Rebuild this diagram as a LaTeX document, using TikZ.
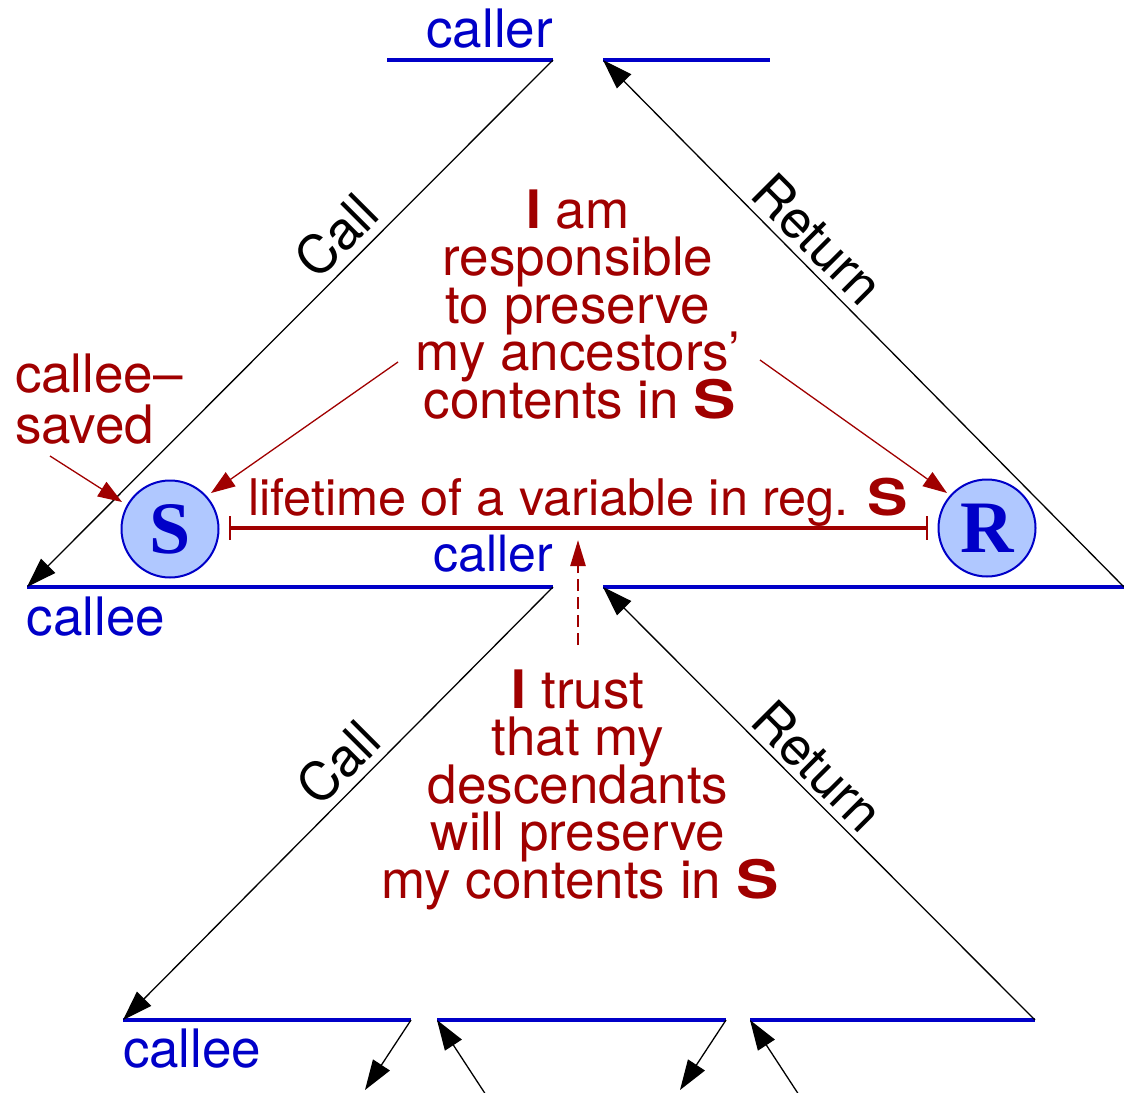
\documentclass[tikz,border=0pt]{standalone}
\usepackage{fontspec}
\usepackage{graphicx}
\setmainfont{TeX Gyre Heros}
\newfontfamily\regserif{Liberation Serif}
\usetikzlibrary{arrows.meta}
\definecolor{cblue}{RGB}{0,0,200}
\definecolor{cred}{RGB}{160,0,0}
\definecolor{cfill}{RGB}{176,200,255}
\newcommand{\regS}{\scalebox{1.2}[1.0]{\textbf{S}}}
\begin{document}
\begin{tikzpicture}[x=1pt,y=-1pt,
  txt/.style={inner sep=0pt, outer sep=0pt, font=\fontsize{53}{48}\selectfont},
  redtxt/.style={txt, text=cred, anchor=base},
  bluetxt/.style={txt, text=cblue},
  blacktxt/.style={txt, text=black},
  level/.style={draw=cblue, line width=4pt},
  flow/.style={draw=black, line width=1.3pt, -{Triangle[length=30pt,width=20pt]}},
  pointer/.style={draw=cred, line width=1.3pt, -{Triangle[length=24pt,width=17pt]}},
  reg/.style={circle, draw=cblue, line width=2pt, fill=cfill, minimum size=97pt, inner sep=0pt,
              text=cblue, font=\regserif\bfseries\fontsize{74}{74}\selectfont}
]
\useasboundingbox (0,0) rectangle (1124,1092);
\clip (0,0) rectangle (1124,1092);

% level lines
\coordinate (tA) at (387,60);  \coordinate (tB) at (553,60);
\coordinate (tC) at (603,60);  \coordinate (tD) at (770,60);
\coordinate (mA) at (27,587);  \coordinate (mB) at (553,587);
\coordinate (mC) at (603,587); \coordinate (mD) at (1124,587);
\coordinate (bA) at (123,1020); \coordinate (bB) at (411,1020);
\coordinate (bC) at (437,1020); \coordinate (bD) at (726,1020);
\coordinate (bE) at (750,1020); \coordinate (bF) at (1035,1020);
\coordinate (x1) at (365,1090); \coordinate (x2) at (486,1095);
\coordinate (x3) at (680,1090); \coordinate (x4) at (799,1095);

\draw[level] (tA) -- (tB);
\draw[level] (tC) -- (tD);
\draw[level] (mA) -- (mB);
\draw[level] (mC) -- (mD);
\draw[level] (bA) -- (bB);
\draw[level] (bC) -- (bD);
\draw[level] (bE) -- (bF);

% call / return arrows
\draw[flow] (tB) -- (mA);
\draw[flow] (mD) -- (tC);
\draw[flow] (mB) -- (bA);
\draw[flow] (bF) -- (mC);
\draw[flow] (bB) -- (x1);
\draw[flow] (x2) -- (bC);
\draw[flow] (bD) -- (x3);
\draw[flow] (x4) -- (bE);

% labels on arrows
\node[blacktxt, rotate=45] (call1) at (336,236) {Call};
\node[blacktxt, rotate=-45] (ret1) at (818,239) {Return};
\node[blacktxt, rotate=45] (call2) at (338,763) {Call};
\node[blacktxt, rotate=-45] (ret2) at (818,766) {Return};

% level names
\node[bluetxt, anchor=base east] (caller1) at (553,47) {caller};
\node[bluetxt, anchor=base east, font=\fontsize{50}{48}\selectfont] (caller2) at (553,571) {caller};
\node[bluetxt, anchor=base west] (callee1) at (27,635) {callee};
\node[bluetxt, anchor=base west] (callee2) at (123,1067) {callee};

% registers
\node[reg] (S) at (170,529) {S};
\node[reg] (R) at (987,528) {R};

% lifetime
\coordinate (lA) at (230,528);
\coordinate (lB) at (927,528);
\draw[cred, line width=4pt] (lA) -- (lB);
\draw[cred, line width=2pt] ([yshift=12pt]lA) -- ([yshift=-12pt]lA);
\draw[cred, line width=2pt] ([yshift=12pt]lB) -- ([yshift=-12pt]lB);
\node[redtxt, font=\fontsize{50.5}{48}\selectfont] (life) at (578,515) {lifetime of a variable in reg. \regS};

% callee-saved
\node[txt, text=cred, anchor=base west] (cs1) at (15,392) {callee–};
\node[txt, text=cred, anchor=base west] (cs2) at (15,443) {saved};
\coordinate (csA) at (50,456);
\coordinate (csB) at (122,502);
\draw[pointer] (csA) -- (csB);

% upper statement
\node[redtxt] (u1) at (578,228) {\textbf{I} am};
\node[redtxt] (u2) at (578,275.5) {responsible};
\node[redtxt] (u3) at (578,323) {to preserve};
\node[redtxt] (u4) at (578,370.5) {my ancestors’};
\node[redtxt] (u5) at (580,418) {contents in \regS};
\coordinate (pA) at (398,362);
\coordinate (pB) at (211,493);
\coordinate (pC) at (760,360);
\coordinate (pD) at (947,493);
\draw[pointer] (pA) -- (pB);
\draw[pointer] (pC) -- (pD);

% lower statement
\node[redtxt] (d1) at (578,708) {\textbf{I} trust};
\node[redtxt] (d2) at (578,755.5) {that my};
\node[redtxt] (d3) at (578,803) {descendants};
\node[redtxt] (d4) at (578,850.5) {will preserve};
\node[redtxt] (d5) at (580,898) {my contents in \regS};
\coordinate (dA) at (578,645);
\coordinate (dB) at (578,540);
\draw[cred, line width=2.5pt, dash pattern=on 12pt off 6pt, -{Triangle[length=26pt,width=15pt]}] (dA) -- (dB);
\end{tikzpicture}
\end{document}
